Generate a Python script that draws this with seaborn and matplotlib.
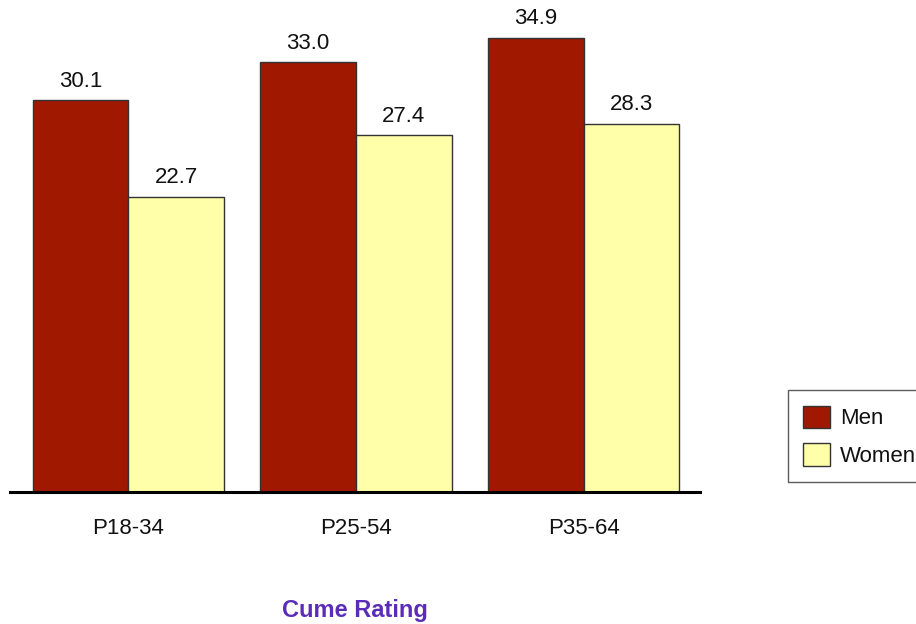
import pandas as pd
import matplotlib
matplotlib.use("Agg")
import matplotlib.pyplot as plt
from matplotlib import font_manager
import seaborn as sns

# datos del grafico
grupos = ["P18-34", "P25-54", "P35-64"]
hombres = [30.1, 33.0, 34.9]
mujeres = [22.7, 27.4, 28.3]
series = ["Men", "Women"]
colores = ["#A01800", "#FFFFAA"]

df = pd.DataFrame({
    "Grupo": grupos * 2,
    "Serie": [series[0]] * 3 + [series[1]] * 3,
    "Valor": hombres + mujeres,
})

sns.set_style("white")
nombres = {f.name for f in font_manager.fontManager.ttflist}
fuente = "Liberation Sans Narrow" if "Liberation Sans Narrow" in nombres else "Liberation Sans"
plt.rcParams["font.family"] = [fuente, "DejaVu Sans"]

fig = plt.figure(figsize=(9.16, 6.24), dpi=100)
ax = fig.add_axes([0.0109, 0.2115, 0.753, 0.7885])

sns.barplot(data=df, x="Grupo", y="Valor", hue="Serie", palette=colores,
            width=0.84, gap=0, edgecolor="#333333", linewidth=1,
            saturation=1, ax=ax, legend=False)

for cont in ax.containers:
    ax.bar_label(cont, fmt="%.1f", padding=6, fontsize=16, color="#111111")

ax.set_xlim(-0.52, 2.51)
ax.set_ylim(0, 37.8)
ax.set_xlabel("")
ax.set_ylabel("")
ax.set_yticks([])
ax.tick_params(axis="x", length=0, pad=19, labelsize=16, labelcolor="#111111")
for lado in ["top", "right", "left"]:
    ax.spines[lado].set_visible(False)
ax.spines["bottom"].set_color("black")
ax.spines["bottom"].set_linewidth(2.2)

fig.text(0.388, 0.012, "Cume Rating", ha="center", va="baseline",
         fontsize=17, fontweight="bold", color="#5B2CB8", family="Liberation Sans")

handles = [plt.Rectangle((0, 0), 1, 1, facecolor=c, edgecolor="#333333", linewidth=1)
           for c in colores]
leg = fig.legend(handles, series, loc="upper left", bbox_to_anchor=(0.860, 0.375),
                 frameon=True, fancybox=False, fontsize=16, handlelength=1.2,
                 handleheight=1.2, handletextpad=0.45, labelspacing=0.6,
                 borderpad=0.7, borderaxespad=0)
for t in leg.get_texts():
    t.set_color("#111111")
leg.get_frame().set_edgecolor("#333333")
leg.get_frame().set_linewidth(1)

fig.savefig("out.png", dpi=100)
